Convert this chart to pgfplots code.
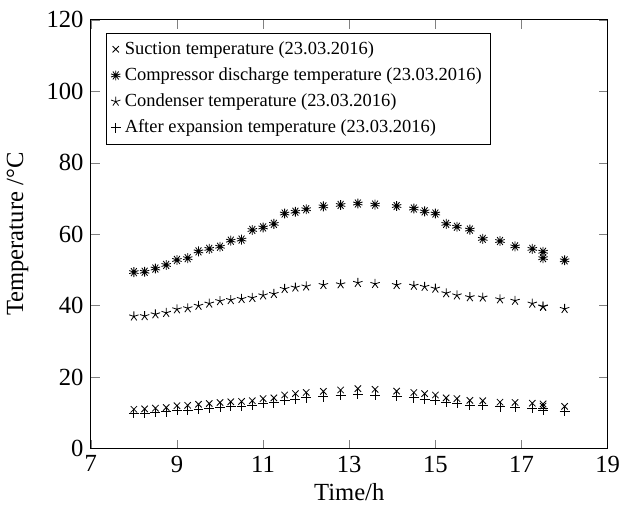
\documentclass[border=0pt]{standalone}
\usepackage{pgfplots}
\pgfplotsset{compat=1.18}
\usepackage{fontspec}
\setmainfont{Liberation Serif}
\pgfplotstableread{
x y
8 11.0
8.25 11.1
8.5 11.3
8.75 11.5
9 12.0
9.25 12.1
9.5 12.4
9.75 12.6
10 12.9
10.25 13.1
10.5 13.2
10.75 13.4
11 14.0
11.25 14.2
11.5 15.0
11.75 15.4
12 15.7
12.4 16.0
12.8 16.4
13.2 16.8
13.6 16.6
14.1 16.1
14.5 15.7
14.75 15.4
15 15.0
15.25 14.2
15.5 14.0
15.8 13.5
16.1 13.4
16.5 13.0
16.85 12.9
17.25 12.7
17.5 12.5
17.5 11.9
18 11.8
}\suction
\pgfplotstableread{
x y
8 49.4
8.25 49.5
8.5 50.4
8.75 51.4
9 52.8
9.25 53.3
9.5 55.2
9.75 55.9
10 56.5
10.25 58.2
10.5 58.5
10.75 61.2
11 61.9
11.25 62.9
11.5 65.8
11.75 66.3
12 67.0
12.4 67.8
12.8 68.2
13.2 68.6
13.6 68.3
14.1 67.9
14.5 67.2
14.75 66.4
15 65.8
15.25 62.9
15.5 62.1
15.8 61.3
16.1 58.7
16.5 58.1
16.85 56.6
17.25 55.9
17.5 55.1
17.5 53.3
18 52.7
}\discharge
\pgfplotstableread{
x y
8 37.0
8.25 37.1
8.5 37.6
8.75 38.0
9 39.0
9.25 39.3
9.5 40.0
9.75 40.6
10 41.3
10.25 41.6
10.5 41.9
10.75 42.2
11 42.9
11.25 43.3
11.5 44.7
11.75 45.1
12 45.4
12.4 45.8
12.8 46.0
13.2 46.4
13.6 46.1
14.1 45.8
14.5 45.6
14.75 45.3
15 44.8
15.25 43.5
15.5 42.9
15.8 42.4
16.1 42.3
16.5 41.8
16.85 41.4
17.25 40.6
17.5 39.8
17.5 39.7
18 39.1
}\condenser
\pgfplotstableread{
x y
8 9.8
8.25 9.9
8.5 10.1
8.75 10.3
9 10.7
9.25 10.8
9.5 11.1
9.75 11.3
10 11.6
10.25 11.8
10.5 11.9
10.75 12.1
11 12.6
11.25 12.8
11.5 13.5
11.75 13.9
12 14.2
12.4 14.5
12.8 14.9
13.2 15.2
13.6 15.0
14.1 14.6
14.5 14.2
14.75 13.9
15 13.5
15.25 12.9
15.5 12.7
15.8 12.2
16.1 12.1
16.5 11.7
16.85 11.5
17.25 11.3
17.5 11.2
17.5 10.8
18 10.5
}\expansion
\begin{document}
\begin{tikzpicture}
\begin{axis}[
  scale only axis,
  width=252pt, height=209pt,
  xmin=7, xmax=19, ymin=0, ymax=120,
  xtick={7,9,...,19},
  ytick={0,20,...,120},
  /pgf/number format/assume math mode=true,
  tick label style={font=\fontsize{12}{14}\selectfont},
  x tick label style={inner xsep=0pt},
  label style={font=\fontsize{12}{14}\selectfont},
  xlabel={Time/h},
  ylabel={Temperature /°C},
  xlabel style={yshift=1.3pt},
  ylabel style={yshift=2pt},
  legend style={at={(0.03,0.97)}, anchor=north west, font=\fontsize{9}{10.5}\selectfont,
    draw=black, row sep=1pt, inner xsep=2pt, inner ysep=2pt},
  legend cell align=left,
  legend image code/.code={\draw[#1] plot coordinates {(0.12cm,0cm)};},
]
\addplot[only marks, mark=x, mark size=2.2pt, black] table {\suction};
\addlegendentry{Suction temperature (23.03.2016)}
\addplot[only marks, mark=10-pointed star, mark size=2.4pt, black] table {\discharge};
\addlegendentry{Compressor discharge temperature (23.03.2016)}
\addplot[only marks, mark=star, mark size=2.4pt, black] table {\condenser};
\addlegendentry{Condenser temperature (23.03.2016)}
\addplot[only marks, mark=+, mark size=2.4pt, black] table {\expansion};
\addlegendentry{After expansion temperature (23.03.2016)}
\end{axis}
\path (current axis.north) ++(0,9.7pt);
\end{tikzpicture}
\end{document}
